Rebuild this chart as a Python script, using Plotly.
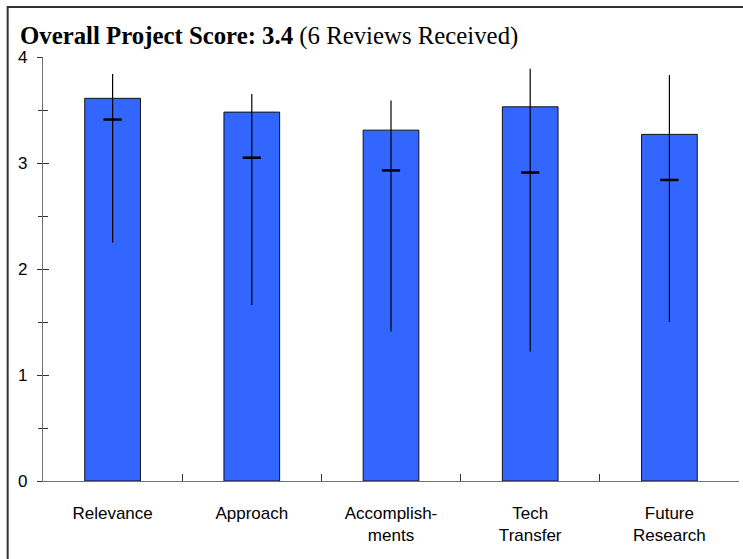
import plotly.graph_objects as go

categories = ["Relevance", "Approach", "Accomplish-<br>ments", "Tech<br>Transfer", "Future<br>Research"]
bar_scores = [3.61, 3.48, 3.31, 3.53, 3.27]
marker_scores = [3.41, 3.05, 2.93, 2.91, 2.84]
high_scores = [3.84, 3.65, 3.59, 3.89, 3.83]
low_scores = [2.25, 1.66, 1.41, 1.22, 1.50]
y_ticks = [0, 1, 2, 3, 4]

err_plus = [h - m for h, m in zip(high_scores, marker_scores)]
err_minus = [m - l for m, l in zip(marker_scores, low_scores)]

W, H = 743, 559
L, R, T, B = 43.3, 4.3, 57, 78
pw = W - L - R
ph = H - T - B

fig = go.Figure()
fig.add_trace(go.Bar(
    x=categories, y=bar_scores, width=0.4,
    marker=dict(color="#3366FF", line=dict(color="#111111", width=1)),
    showlegend=False, hoverinfo="skip",
))
fig.add_trace(go.Scatter(
    x=categories, y=marker_scores, mode="markers",
    marker=dict(symbol="line-ew", size=13, color="black", line=dict(color="black", width=2.5)),
    error_y=dict(type="data", symmetric=False, array=err_plus, arrayminus=err_minus,
                 width=0, thickness=1.2, color="black"),
    showlegend=False, hoverinfo="skip",
))
# invisible trace to activate overlaid axis for crossing ticks
fig.add_trace(go.Scatter(x=[categories[0]], y=[0], yaxis="y2", mode="markers",
                         marker=dict(opacity=0), showlegend=False, hoverinfo="skip"))

fig.update_layout(
    width=W, height=H,
    margin=dict(l=L, r=R, t=T, b=B),
    plot_bgcolor="white", paper_bgcolor="white",
    font=dict(family="Liberation Sans, Arial, sans-serif", size=16, color="black"),
    title=dict(
        text="<b>Overall Project Score: 3.4</b> (6 Reviews Received)",
        font=dict(family="Liberation Serif, Times New Roman, serif", size=24.8, color="black"),
        xref="container", yref="container", x=20 / W, xanchor="left",
        y=1 - 35 / H, yanchor="middle",
    ),
    xaxis=dict(
        type="category", range=[-0.5, 4.5], automargin=False,
        showline=True, linecolor="#707070", linewidth=1.2,
        ticks="inside", ticklen=7, tickcolor="#333333", tickwidth=1,
        tickson="boundaries", showgrid=False,
        tickfont=dict(size=17), ticklabelstandoff=16,
    ),
    yaxis=dict(
        range=[0, 4], tickvals=y_ticks, ticktext=[str(v) for v in y_ticks],
        automargin=False,
        showline=True, linecolor="#707070", linewidth=1.2,
        ticks="outside", ticklen=5, tickcolor="#333333", tickwidth=1,
        minor=dict(dtick=0.5, ticks="outside", ticklen=4, tickcolor="#333333"),
        showgrid=False, zeroline=False,
        tickfont=dict(size=17), ticklabelstandoff=6,
    ),
    yaxis2=dict(
        overlaying="y", range=[0, 4], tickvals=y_ticks, showticklabels=False,
        automargin=False,
        ticks="inside", ticklen=6, tickcolor="#333333", tickwidth=1,
        minor=dict(dtick=0.5, ticks="inside", ticklen=5, tickcolor="#333333"),
        showgrid=False, zeroline=False, showline=False,
    ),
    shapes=[dict(
        type="rect", xref="paper", yref="paper",
        x0=(8 - L) / pw, x1=2.0, y0=-2.0, y1=(H - B - 7) / ph,
        line=dict(color="#333333", width=2), fillcolor="rgba(0,0,0,0)", layer="above",
    )],
)

fig.write_html(
    "out.html",
    config={"displayModeBar": False},
    post_script="document.body.style.margin='0';document.body.style.overflow='hidden';",
)
